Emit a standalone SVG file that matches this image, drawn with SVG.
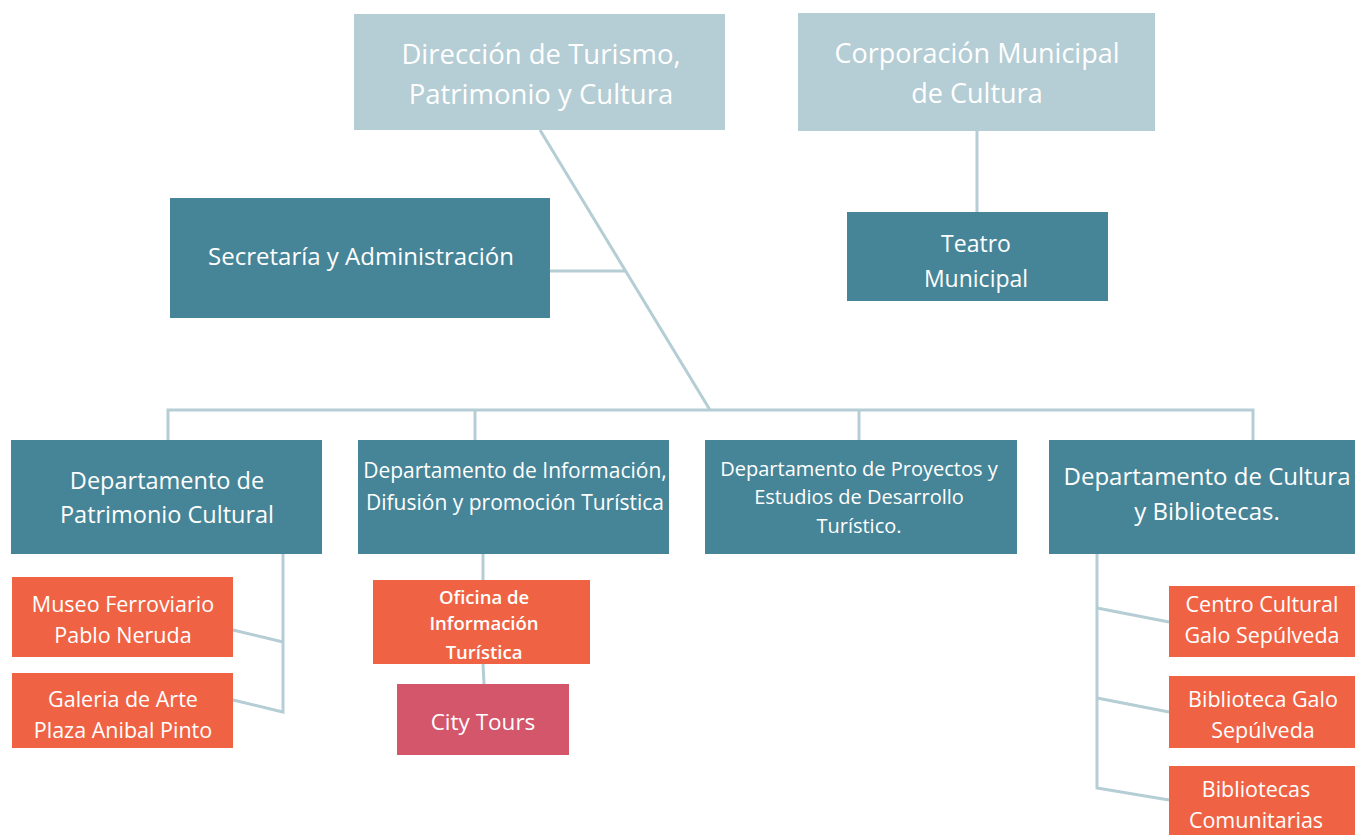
<svg xmlns="http://www.w3.org/2000/svg" width="1355" height="835" viewBox="0 0 1355 835">
<style>
.top{fill:#b5cdd4}
.dep{fill:#468597}
.org{fill:#ef6344}
.pink{fill:#d4566b}
text{font-family:"Open Sans","Noto Sans",sans-serif;fill:#ffffff;text-anchor:middle;dominant-baseline:central}
.ln{stroke:#b5cdd4;stroke-width:3;fill:none}
</style>
<rect width="1355" height="835" fill="#ffffff"/>
<g id="connectors">
<line class="ln" x1="540" y1="130" x2="710" y2="410"/>
<line class="ln" x1="550" y1="271" x2="626" y2="271"/>
<line class="ln" x1="977" y1="131" x2="977" y2="212"/>
<polyline class="ln" points="168,440 168,410 1253,410 1253,440"/>
<line class="ln" x1="475" y1="410" x2="475" y2="440"/>
<line class="ln" x1="859" y1="410" x2="859" y2="440"/>
<polyline class="ln" points="283,554 283,712 233,700"/>
<line class="ln" x1="233" y1="630" x2="283" y2="642"/>
<line class="ln" x1="483" y1="554" x2="483" y2="580"/>
<line class="ln" x1="483" y1="664" x2="484" y2="684"/>
<polyline class="ln" points="1097,554 1097,788 1169,800"/>
<line class="ln" x1="1097" y1="608" x2="1169" y2="622"/>
<line class="ln" x1="1097" y1="698" x2="1169" y2="712"/>
</g>
<g id="direccion">
<rect class="top" x="354" y="14" width="371" height="116"/>
<text x="541" y="53" font-size="27.5">Dirección de Turismo,</text>
<text x="541" y="93" font-size="27.5">Patrimonio y Cultura</text>
</g>
<g id="corporacion">
<rect class="top" x="798" y="13" width="357" height="118"/>
<text x="977" y="52" font-size="27">Corporación Municipal</text>
<text x="977" y="92" font-size="27">de Cultura</text>
</g>
<g id="secretaria">
<rect class="dep" x="170" y="198" width="380" height="120"/>
<text x="361" y="255" font-size="24">Secretaría y Administración</text>
</g>
<g id="teatro">
<rect class="dep" x="847" y="212" width="261" height="89"/>
<text x="976" y="243" font-size="23">Teatro</text>
<text x="976" y="278" font-size="23">Municipal</text>
</g>
<g id="dep-patrimonio">
<rect class="dep" x="11" y="440" width="311" height="114"/>
<text x="167" y="480" font-size="23.5">Departamento de</text>
<text x="167" y="514" font-size="23.5">Patrimonio Cultural</text>
</g>
<g id="dep-informacion">
<rect class="dep" x="358" y="440" width="311" height="114"/>
<text x="515" y="470" font-size="21">Departamento de Información,</text>
<text x="515" y="502" font-size="21">Difusión y promoción Turística</text>
</g>
<g id="dep-proyectos">
<rect class="dep" x="705" y="440" width="312" height="114"/>
<text x="859" y="468" font-size="20">Departamento de Proyectos y</text>
<text x="859" y="496" font-size="20">Estudios de Desarrollo</text>
<text x="859" y="525" font-size="20">Turístico.</text>
</g>
<g id="dep-cultura">
<rect class="dep" x="1049" y="440" width="306" height="114"/>
<text x="1207" y="475" font-size="24">Departamento de Cultura</text>
<text x="1207" y="510" font-size="24">y Bibliotecas.</text>
</g>
<g id="museo">
<rect class="org" x="12" y="577" width="221" height="80"/>
<text x="123" y="603" font-size="21.5">Museo Ferroviario</text>
<text x="123" y="634" font-size="21.5">Pablo Neruda</text>
</g>
<g id="galeria">
<rect class="org" x="12" y="673" width="221" height="75"/>
<text x="123" y="698" font-size="21.5">Galeria de Arte</text>
<text x="123" y="729" font-size="21.5">Plaza Anibal Pinto</text>
</g>
<g id="oficina">
<rect class="org" x="373" y="580" width="217" height="84"/>
<text x="484" y="596" font-size="18.5" font-weight="600">Oficina de</text>
<text x="484" y="622" font-size="18.5" font-weight="600">Información</text>
<text x="484" y="651" font-size="18.5" font-weight="600">Turística</text>
</g>
<g id="city-tours">
<rect class="pink" x="397" y="684" width="172" height="71"/>
<text x="483" y="721" font-size="22.5">City Tours</text>
</g>
<g id="centro-cultural">
<rect class="org" x="1169" y="586" width="186" height="71"/>
<text x="1262" y="603" font-size="21.5">Centro Cultural</text>
<text x="1262" y="634" font-size="21.5">Galo Sepúlveda</text>
</g>
<g id="biblioteca-galo">
<rect class="org" x="1169" y="676" width="186" height="72"/>
<text x="1263" y="698" font-size="21.5">Biblioteca Galo</text>
<text x="1263" y="729" font-size="21.5">Sepúlveda</text>
</g>
<g id="bibliotecas-comunitarias">
<rect class="org" x="1169" y="766" width="186" height="69"/>
<text x="1256" y="788" font-size="21.5">Bibliotecas</text>
<text x="1256" y="819" font-size="21.5">Comunitarias</text>
</g>
</svg>
